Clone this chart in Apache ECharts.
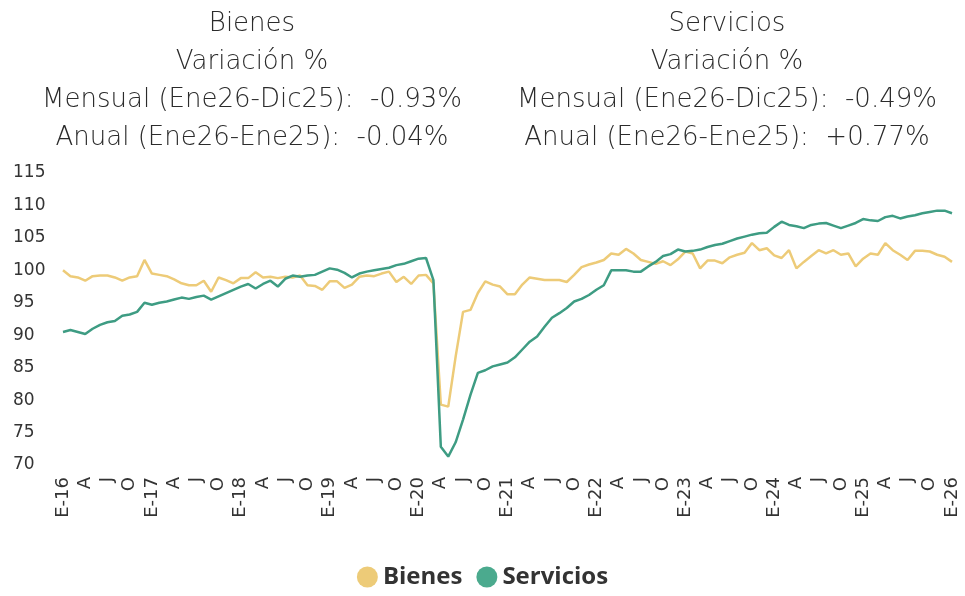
<!DOCTYPE html>
<html>
<head>
<meta charset="utf-8">
<script src="https://cdn.jsdelivr.net/npm/echarts@6/dist/echarts.min.js"></script>
<style>
  html, body { margin: 0; padding: 0; background: #fff; }
  #chart { width: 965px; height: 596px; }
</style>
</head>
<body>
<div id="chart"></div>
<script>
// month letters used for the category axis (E = Enero)
const monthLetters = ["E", "F", "M", "A", "M", "J", "J", "A", "S", "O", "N", "D"];
const years = ["16", "17", "18", "19", "20", "21", "22", "23", "24", "25", "26"];

const bienesTitle = ["Bienes", "Variación %", "Mensual (Ene26-Dic25):  -0.93%", "Anual (Ene26-Ene25):  -0.04%"];
const serviciosTitle = ["Servicios", "Variación %", "Mensual (Ene26-Dic25):  -0.49%", "Anual (Ene26-Ene25):  +0.77%"];

// Ene-16 .. Ene-26, monthly index values
const bienes = [
  100.0, 99.1, 98.9, 98.4, 99.1, 99.2, 99.2, 98.9, 98.4, 98.9, 99.1, 101.6,
  99.5, 99.3, 99.1, 98.6, 98.0, 97.7, 97.7, 98.4, 96.7, 98.9, 98.5, 98.0,
  98.8, 98.8, 99.7, 98.9, 99.0, 98.8, 99.0, 98.9, 99.2, 97.7, 97.6, 97.0,
  98.3, 98.3, 97.3, 97.8, 99.0, 99.2, 99.1, 99.5, 99.8, 98.2, 99.0, 97.9,
  99.2, 99.3, 98.0, 79.3, 79.0, 86.7, 93.6, 93.9, 96.5, 98.3, 97.8, 97.5,
  96.3, 96.3, 97.8, 98.9, 98.7, 98.5, 98.5, 98.5, 98.2, 99.3, 100.5, 100.9,
  101.2, 101.6, 102.6, 102.4, 103.3, 102.6, 101.6, 101.3, 101.0, 101.4, 100.8, 101.7,
  102.9, 102.6, 100.3, 101.5, 101.5, 101.1, 102.0, 102.4, 102.7, 104.2, 103.1, 103.4,
  102.3, 101.9, 103.1, 100.3, 101.3, 102.2, 103.1, 102.6, 103.1, 102.4, 102.6, 100.6,
  101.8, 102.6, 102.4, 104.2, 103.1, 102.4, 101.6, 103.0, 103.0, 102.9, 102.4, 102.1,
  101.3
];

const servicios = [
  90.5, 90.8, 90.5, 90.2, 91.0, 91.6, 92.0, 92.2, 93.0, 93.2, 93.6, 95.0,
  94.7, 95.0, 95.2, 95.5, 95.8, 95.6, 95.9, 96.1, 95.5, 96.0, 96.5, 97.0,
  97.5, 97.9, 97.2, 97.9, 98.4, 97.5, 98.7, 99.2, 99.0, 99.2, 99.3, 99.8,
  100.3, 100.1, 99.6, 98.9, 99.5, 99.8, 100.0, 100.2, 100.4, 100.8, 101.0, 101.4,
  101.8, 101.9, 98.5, 72.8, 71.3, 73.5, 77.0, 80.8, 84.2, 84.6, 85.2, 85.5,
  85.8, 86.6, 87.8, 89.0, 89.8, 91.3, 92.7, 93.4, 94.2, 95.2, 95.6, 96.2,
  97.0, 97.7, 100.0, 100.0, 100.0, 99.8, 99.8, 100.6, 101.3, 102.2, 102.5, 103.2,
  102.9, 103.0, 103.2, 103.6, 103.9, 104.1, 104.5, 104.9, 105.2, 105.5, 105.7, 105.8,
  106.7, 107.5, 107.0, 106.8, 106.5, 107.0, 107.2, 107.3, 106.9, 106.5, 106.9, 107.3,
  107.9, 107.7, 107.6, 108.2, 108.4, 108.0, 108.3, 108.5, 108.8, 109.0, 109.2, 109.2,
  108.8
];

const categories = [];
years.forEach((y, yi) => {
  monthLetters.forEach((m, mi) => {
    if (yi === years.length - 1 && mi > 0) return;
    categories.push(mi === 0 ? "E-" + y : m);
  });
});

const textColor = "#333333";
const titleStyle = {
  fontFamily: "DejaVu Sans",
  fontWeight: 200,
  fontSize: 26,
  lineHeight: 38,
  color: "#2b2b2b"
};

const chart = echarts.init(document.getElementById("chart"));

chart.setOption({
  animation: false,
  title: [
    {
      text: bienesTitle.join("\n"),
      left: 252,
      top: 5,
      padding: 0,
      textAlign: "center",
      textStyle: titleStyle
    },
    {
      text: serviciosTitle.join("\n"),
      left: 727,
      top: 5,
      padding: 0,
      textAlign: "center",
      textStyle: titleStyle
    }
  ],
  grid: {
    left: 63,
    right: 13,
    top: 173,
    bottom: 131,
    containLabel: false
  },
  legend: {
    bottom: 2,
    left: "center",
    icon: "circle",
    itemWidth: 21,
    itemHeight: 21,
    itemGap: 14,
    textStyle: { fontFamily: "Open Sans", fontSize: 24, fontWeight: "bold", color: textColor },
    data: ["Bienes", "Servicios"]
  },
  xAxis: {
    type: "category",
    boundaryGap: false,
    data: categories,
    axisLine: { show: false },
    axisTick: { show: false },
    axisLabel: {
      interval: 2,
      rotate: 90,
      margin: 12,
      fontSize: 18,
      fontFamily: "DejaVu Sans",
      color: textColor
    }
  },
  yAxis: {
    type: "value",
    min: 70,
    max: 115,
    interval: 5,
    axisLine: { show: false },
    axisTick: { show: false },
    splitLine: { show: false },
    axisLabel: {
      align: "left",
      margin: 50,
      fontSize: 17,
      fontFamily: "DejaVu Sans",
      color: textColor
    }
  },
  series: [
    {
      name: "Bienes",
      type: "line",
      data: bienes,
      showSymbol: false,
      symbol: "circle",
      lineStyle: { width: 2.5, color: "#EDCB78" },
      itemStyle: { color: "#EDCB78" }
    },
    {
      name: "Servicios",
      type: "line",
      data: servicios,
      showSymbol: false,
      symbol: "circle",
      lineStyle: { width: 2.5, color: "#3E9C83" },
      itemStyle: { color: "#4BAA8E" }
    }
  ]
});
</script>
</body>
</html>
